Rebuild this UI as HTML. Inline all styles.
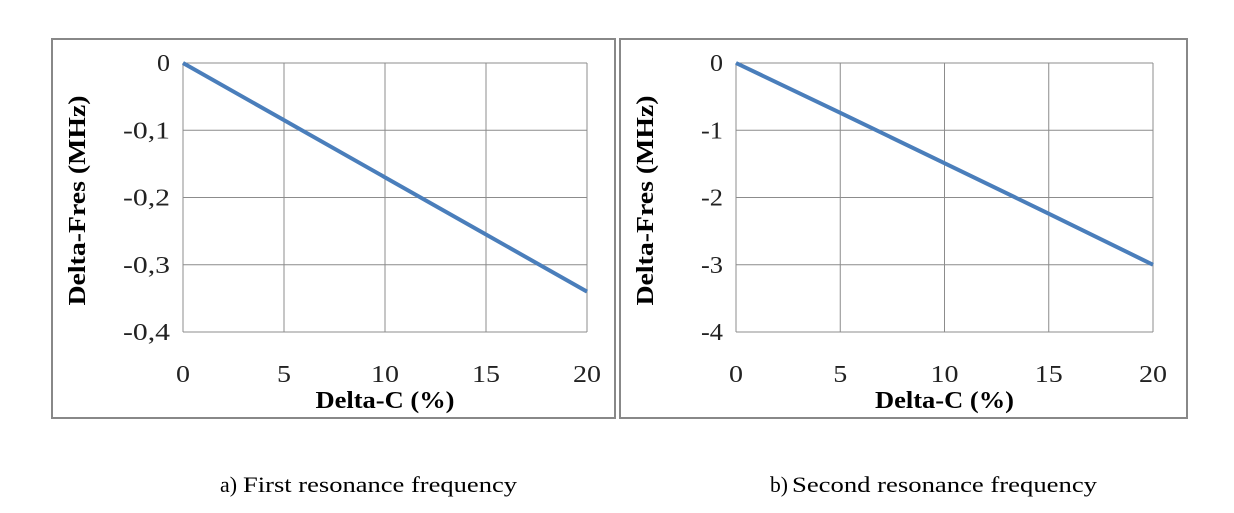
<!DOCTYPE html>
<html><head><meta charset="utf-8"><style>
body{margin:0;background:#fff;width:1234px;height:508px;overflow:hidden;font-family:"Liberation Serif",serif}
svg text{font-family:"Liberation Serif",serif}
</style></head><body>
<svg width="1234" height="508">
<g id="c1"></g>
<g id="c2"></g>
<text x="220" y="492" font-size="22" textLength="17" lengthAdjust="spacingAndGlyphs">a)</text>
<text x="243" y="492" font-size="22" textLength="274" lengthAdjust="spacingAndGlyphs">First resonance frequency</text>
<text x="770" y="492" font-size="22" textLength="18" lengthAdjust="spacingAndGlyphs">b)</text>
<text x="792" y="492" font-size="22" textLength="305" lengthAdjust="spacingAndGlyphs">Second resonance frequency</text>
</svg>
<script>
const xCats=[0,5,10,15,20];
const yTicksA=[0,-0.1,-0.2,-0.3,-0.4];
const yLabelsA=["0","-0,1","-0,2","-0,3","-0,4"];
const valuesA=[0,-0.085,-0.17,-0.255,-0.34];
const yTicksB=[0,-1,-2,-3,-4];
const yLabelsB=["0","-1","-2","-3","-4"];
const valuesB=[0,-0.74,-1.49,-2.24,-3.0];
const NS="http://www.w3.org/2000/svg";
function mk(p,t,a){const e=document.createElementNS(NS,t);for(const k in a)e.setAttribute(k,a[k]);p.appendChild(e);return e;}
function draw(g,box,plot,yTicks,yLabels,vals,ymin){
  const fr=mk(g,'rect',{x:box[0],y:box[1],width:box[2]-box[0],height:box[3]-box[1],fill:'none',stroke:'#888','stroke-width':2});
  
  
  const [x0,y0,x1,y1]=plot;
  const X=v=>x0+(v-xCats[0])/(xCats[xCats.length-1]-xCats[0])*(x1-x0);
  const Y=v=>y0+(0-v)/(0-ymin)*(y1-y0);
  xCats.forEach((c,i)=>{
    const l=mk(g,'line',{x1:X(c),x2:X(c),y1:y0,y2:y1,stroke:'#8c8c8c','stroke-width':1});
    
    
    const s=String(c);
    const t=mk(g,'text',{x:X(c),y:y1+50,'font-size':24,'text-anchor':'middle',fill:'#222',textLength:s.length*14,lengthAdjust:'spacingAndGlyphs'});t.textContent=s;
    
    
  });
  yTicks.forEach((v,i)=>{
    const l=mk(g,'line',{x1:x0,x2:x1,y1:Y(v),y2:Y(v),stroke:'#8c8c8c','stroke-width':1});
    
    
    const s=yLabels[i];
    const w=s.length===1?13:(s.length===2?22:47);
    const t=mk(g,'text',{x:x0-13,y:Y(v)+8,'font-size':24,'text-anchor':'end',fill:'#222',textLength:w,lengthAdjust:'spacingAndGlyphs'});t.textContent=s;
    
    
  });
  const pts=xCats.map((c,i)=>X(c)+','+Y(vals[i])).join(' ');
  const pl=mk(g,'polyline',{points:pts,fill:'none',stroke:'#4a7ebb','stroke-width':4});
  
  
  const xt=mk(g,'text',{x:(x0+x1)/2,y:y1+76,'font-size':24,'font-weight':'bold','text-anchor':'middle',textLength:139,lengthAdjust:'spacingAndGlyphs'});xt.textContent='Delta-C (%)';
  
  
  const yx=box[0]+33,yy=(y0+y1)/2+3;
  const yt=mk(g,'text',{x:yx,y:yy,'font-size':24,'font-weight':'bold','text-anchor':'middle',textLength:210,lengthAdjust:'spacingAndGlyphs',transform:`rotate(-90 ${yx} ${yy})`});yt.textContent='Delta-Fres (MHz)';
  
  
}
draw(document.getElementById('c1'),[52,39,615,418],[183,63,587,332],yTicksA,yLabelsA,valuesA,-0.4);
draw(document.getElementById('c2'),[620,39,1187,418],[736,63,1153,332],yTicksB,yLabelsB,valuesB,-4);
</script>
</body></html>
